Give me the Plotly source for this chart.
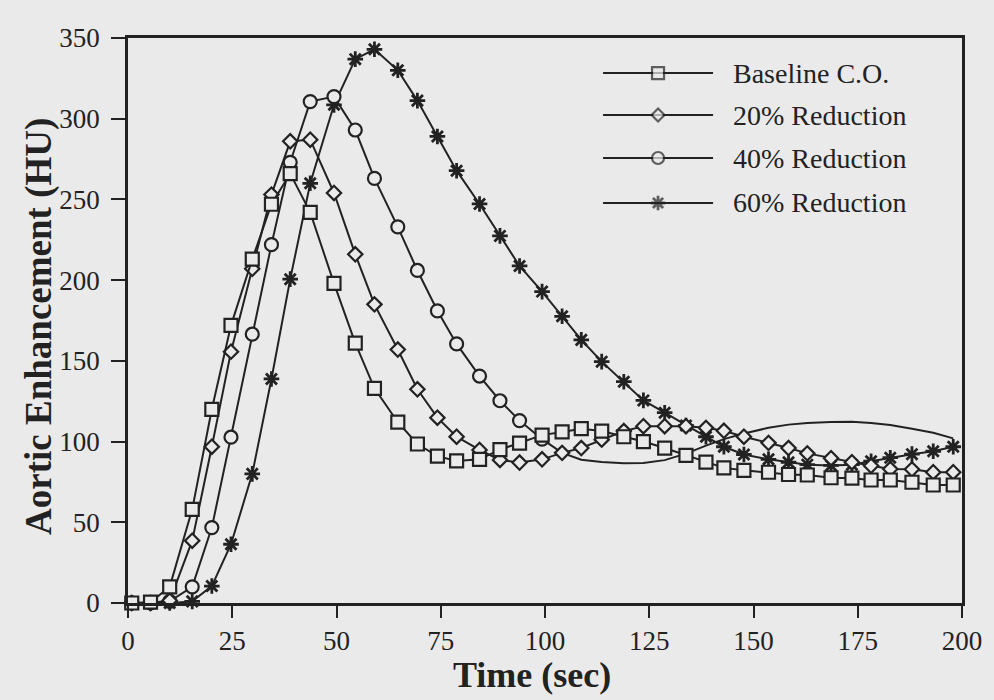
import plotly.graph_objects as go

# Sampling times (s) shared by all four curves
time_sec = [0.9, 5.4, 10.0, 15.4, 20.1, 24.7, 29.8, 34.4, 38.9, 43.7,
            49.4, 54.5, 59.1, 64.7, 69.4, 74.2, 78.8, 84.3, 89.2, 93.9,
            99.3, 104.1, 108.7, 113.6, 118.9, 123.6, 128.7, 133.8, 138.6, 142.9,
            147.7, 153.6, 158.4, 162.9, 168.6, 173.6, 178.2, 182.8, 188.0, 193.1,
            197.9]

# Aortic enhancement (HU) for each cardiac-output condition
baseline = [0, 0.5, 10, 58, 120, 172, 213, 247, 266, 242,
            198, 161, 133, 112, 98.5, 91, 88, 89, 95, 99,
            104, 106, 108, 106.5, 103, 100, 96, 91.5, 87.3, 83.7,
            82.2, 81, 79.6, 79.3, 77.6, 77.3, 76.2, 76.2, 74.8, 73.1,
            73.1]
reduction_20 = [0, 0, 1.5, 38.6, 96.8, 155.7, 207, 253, 286, 287,
                254, 216, 185, 157, 132.4, 114.8, 103, 94.8, 88.6, 87,
                89, 93, 96, 101.2, 106.5, 109.5, 109.5, 109.5, 108.5, 106.7,
                103, 99.2, 96, 92.7, 89.7, 87.2, 85, 83, 82.8, 81,
                81]
reduction_40 = [0, 0, 1, 10, 46.7, 102.7, 166.5, 222, 273, 310.6,
                313.7, 293, 263, 233, 206, 181, 160.5, 140.6, 125.3, 113,
                101.5, 93, 88.8, 87.3, 86.6, 86.8, 88.5, 92.5, 97.5, 101.5,
                105, 108.5, 110.5, 111.5, 112.2, 112.3, 111.5, 110.3, 108, 105.5,
                102]
reduction_60 = [0, 0, 0, 1, 10.5, 36.4, 80, 138.8, 200.6, 260,
                308.6, 336.9, 343, 330, 311.2, 289, 267.8, 247.2, 227.4, 208.8,
                192.9, 177.6, 163, 149.5, 137.1, 125.5, 117.9, 110, 103, 96.8,
                92, 89, 87.2, 85.7, 85.2, 85.7, 87.8, 90, 92.2, 94,
                96.8]
# the 40% curve carries symbols only over its first samples
marked_40 = 21

series_names = ["Baseline C.O.", "20% Reduction", "40% Reduction", "60% Reduction"]
x_ticks = [0, 25, 50, 75, 100, 125, 150, 175, 200]
y_ticks = [0, 50, 100, 150, 200, 250, 300, 350]

INK = "#222222"
PAPER = "#eaeaeb"
SERIF = "Liberation Serif, Times New Roman, serif"

styles = {
    "Baseline C.O.": dict(symbol="square", size=13),
    "20% Reduction": dict(symbol="diamond", size=11),
    "40% Reduction": dict(symbol="circle", size=13),
    "60% Reduction": dict(symbol="asterisk-open", size=13),
}


def marker_for(name):
    st = styles[name]
    if st["symbol"] == "asterisk-open":
        return dict(symbol=st["symbol"], size=st["size"],
                    line=dict(color=INK, width=2.8), color=INK)
    return dict(symbol=st["symbol"], size=st["size"], color=PAPER,
                line=dict(color=INK, width=2.2))


fig = go.Figure()

line_style = dict(color=INK, width=2)

# 60% reduction
fig.add_trace(go.Scatter(x=time_sec, y=reduction_60, mode="lines+markers",
                         line=line_style, marker=marker_for("60% Reduction"),
                         cliponaxis=False, showlegend=False))
# 40% reduction: marked section, then plain continuation
fig.add_trace(go.Scatter(x=time_sec[marked_40 - 1:], y=reduction_40[marked_40 - 1:],
                         mode="lines", line=line_style, cliponaxis=False,
                         showlegend=False))
fig.add_trace(go.Scatter(x=time_sec[:marked_40], y=reduction_40[:marked_40],
                         mode="lines+markers", line=line_style,
                         marker=marker_for("40% Reduction"),
                         cliponaxis=False, showlegend=False))
# 20% reduction
fig.add_trace(go.Scatter(x=time_sec, y=reduction_20, mode="lines+markers",
                         line=line_style, marker=marker_for("20% Reduction"),
                         cliponaxis=False, showlegend=False))
# baseline cardiac output
fig.add_trace(go.Scatter(x=time_sec, y=baseline, mode="lines+markers",
                         line=line_style, marker=marker_for("Baseline C.O."),
                         cliponaxis=False, showlegend=False))

# Key: long sample lines with a symbol in the middle, on an overlay axis in
# plot-fraction units
key_x0, key_x1 = 0.5696, 0.7015
key_rows = [0.938, 0.8637, 0.7876, 0.708]
for name, ky in zip(series_names, key_rows):
    mk = marker_for(name)
    mk["size"] = [0, styles[name]["size"] - 1, 0]
    fig.add_trace(go.Scatter(x=[key_x0, (key_x0 + key_x1) / 2, key_x1],
                             y=[ky, ky, ky], mode="lines+markers",
                             line=dict(color=INK, width=2), marker=mk,
                             xaxis="x2", yaxis="y2", cliponaxis=False,
                             showlegend=False, hoverinfo="skip"))
    fig.add_annotation(x=0.723, y=ky, xref="x2", yref="y2", text=name,
                       showarrow=False, xanchor="left", yanchor="middle",
                       font=dict(family=SERIF, size=28, color=INK))

axis_common = dict(showgrid=False, zeroline=False, showline=True,
                   linecolor=INK, linewidth=2.5, mirror=True,
                   ticks="outside", tickcolor=INK, tickwidth=2,
                   tickfont=dict(family=SERIF, size=27, color=INK))

fig.update_layout(
    width=994, height=700,
    margin=dict(l=128, r=25, t=38, b=97),
    paper_bgcolor=PAPER, plot_bgcolor=PAPER,
    xaxis=dict(range=[0, 200], tickvals=x_ticks, ticklen=12, **axis_common),
    yaxis=dict(range=[0, 350], tickvals=y_ticks, ticklen=14,
               ticklabelstandoff=6, **axis_common),
    xaxis2=dict(range=[0, 1], overlaying="x", visible=False, fixedrange=True),
    yaxis2=dict(range=[0, 1], overlaying="y", visible=False, fixedrange=True),
    showlegend=False,
)

# Axis titles
fig.add_annotation(x=0.4845, y=-0.128, xref="paper", yref="paper",
                   text="<b>Time (sec)</b>", showarrow=False,
                   xanchor="center", yanchor="middle",
                   font=dict(family=SERIF, size=36, color=INK))
fig.add_annotation(x=-0.107, y=0.49, xref="paper", yref="paper",
                   text="<b>Aortic Enhancement (HU)</b>", showarrow=False,
                   textangle=-90, xanchor="center", yanchor="middle",
                   font=dict(family=SERIF, size=37, color=INK))

fig.write_html("out.html")
